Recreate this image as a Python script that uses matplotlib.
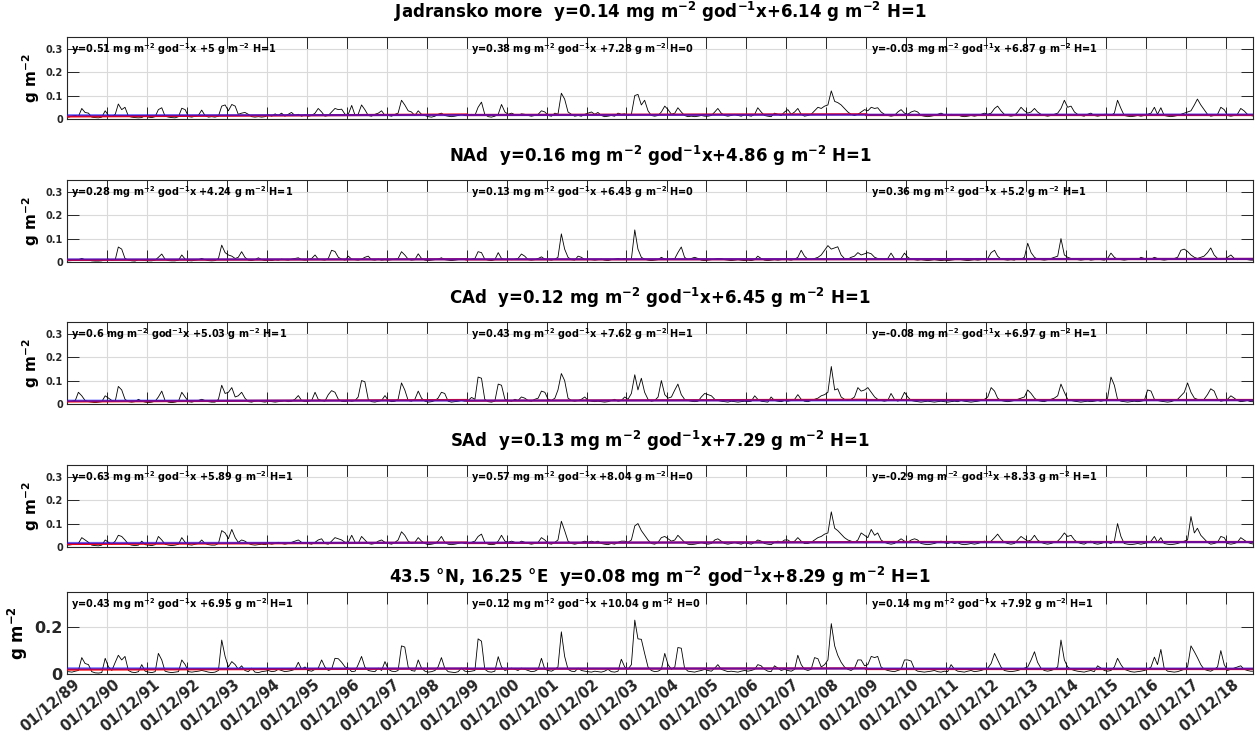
import matplotlib
matplotlib.use('Agg')
import matplotlib.pyplot as plt
import matplotlib.dates as mdates
import matplotlib.transforms as mtransforms
import pandas as pd
from datetime import datetime

# monthly values in 10^-3 g m^-2, one row per year (Dec..Nov), starting Dec 1989
jadran = [8, 12, 15, 10, 45, 28, 25, 8, 6, 5, 8, 35,
          15, 10, 20, 64, 40, 50, 12, 8, 6, 5, 6, 15,
          8, 6, 10, 40, 48, 12, 8, 6, 5, 10, 46, 40,
          10, 8, 12, 15, 38, 15, 8, 10, 8, 12, 55, 60,
          35, 62, 55, 20, 25, 28, 20, 10, 8, 10, 8, 10,
          18, 12, 22, 15, 25, 12, 20, 28, 15, 20, 12, 18,
          12, 15, 25, 45, 30, 12, 15, 30, 45, 40, 42, 20,
          20, 58, 15, 20, 60, 40, 15, 12, 20, 25, 35, 15,
          15, 12, 20, 25, 80, 60, 35, 30, 15, 35, 20, 15,
          10, 8, 12, 20, 25, 15, 12, 10, 12, 15, 20, 15,
          15, 20, 15, 50, 72, 20, 10, 8, 12, 20, 62, 30,
          20, 25, 18, 15, 22, 20, 15, 12, 15, 20, 35, 30,
          15, 12, 25, 20, 110, 85, 30, 20, 12, 15, 12, 20,
          25, 30, 20, 28, 15, 10, 12, 15, 12, 25, 20, 22,
          15, 20, 100, 105, 60, 80, 35, 15, 12, 15, 30, 55,
          40, 20, 25, 48, 30, 15, 10, 12, 10, 12, 15, 12,
          12, 15, 30, 45, 25, 15, 12, 15, 20, 15, 12, 18,
          15, 12, 20, 48, 30, 15, 12, 10, 25, 20, 15, 30,
          40, 20, 30, 45, 20, 12, 15, 20, 35, 50, 45, 55,
          60, 120, 75, 70, 60, 45, 30, 20, 15, 20, 30, 40,
          35, 50, 45, 48, 30, 20, 15, 12, 15, 30, 40, 25,
          20, 30, 35, 30, 15, 12, 10, 12, 15, 20, 25, 18,
          15, 20, 15, 18, 12, 10, 12, 15, 12, 15, 20, 25,
          20, 25, 45, 55, 35, 20, 15, 12, 15, 30, 50, 35,
          25, 30, 45, 30, 20, 15, 12, 15, 20, 25, 45, 80,
          50, 55, 30, 20, 15, 12, 20, 25, 15, 12, 15, 20,
          20, 15, 25, 80, 45, 15, 12, 10, 12, 15, 12, 15,
          20, 25, 50, 20, 48, 15, 12, 10, 12, 15, 20, 25,
          30, 35, 60, 85, 60, 40, 20, 12, 15, 20, 50, 40,
          15, 12, 15, 20, 45, 35, 20, 15, 12]

nad = [5, 6, 8, 10, 15, 10, 8, 5, 4, 4, 5, 10,
       12, 8, 10, 64, 55, 15, 8, 5, 4, 10, 8, 6,
       5, 5, 8, 20, 34, 12, 6, 5, 5, 8, 30, 12,
       6, 5, 8, 10, 15, 10, 6, 5, 6, 15, 72, 40,
       30, 25, 15, 20, 44, 20, 8, 6, 10, 18, 10, 6,
       8, 6, 10, 8, 12, 10, 8, 12, 15, 18, 10, 8,
       10, 15, 30, 12, 10, 8, 15, 50, 45, 20, 12, 8,
       25, 12, 10, 8, 12, 20, 25, 10, 8, 12, 8, 10,
       8, 10, 12, 15, 44, 30, 12, 8, 10, 35, 15, 8,
       6, 8, 10, 12, 18, 10, 8, 6, 8, 10, 12, 10,
       10, 12, 15, 44, 40, 12, 8, 6, 10, 40, 15, 10,
       12, 10, 12, 15, 34, 25, 10, 8, 10, 15, 22, 12,
       10, 8, 12, 20, 120, 55, 20, 10, 8, 25, 20, 10,
       12, 10, 8, 10, 12, 8, 6, 10, 12, 15, 12, 15,
       10, 12, 137, 55, 20, 12, 8, 6, 8, 10, 20, 12,
       10, 12, 15, 40, 64, 20, 10, 15, 20, 15, 8, 6,
       8, 10, 12, 15, 15, 10, 8, 6, 8, 10, 8, 6,
       8, 6, 10, 25, 15, 8, 6, 8, 10, 8, 10, 12,
       10, 8, 12, 20, 50, 25, 12, 10, 15, 20, 30, 50,
       70, 55, 60, 65, 30, 15, 12, 20, 25, 40, 30, 35,
       40, 35, 20, 15, 12, 10, 15, 38, 15, 10, 15, 38,
       20, 12, 10, 8, 10, 8, 6, 8, 10, 8, 6, 8,
       6, 8, 10, 12, 10, 8, 6, 8, 10, 8, 10, 12,
       15, 40, 50, 25, 12, 10, 8, 10, 8, 15, 12, 20,
       80, 40, 20, 12, 10, 8, 10, 15, 20, 25, 100, 30,
       20, 15, 12, 10, 8, 10, 12, 8, 10, 12, 10, 8,
       15, 38, 20, 12, 10, 8, 10, 12, 15, 10, 20, 15,
       10, 12, 20, 15, 10, 8, 10, 12, 15, 20, 50, 55,
       45, 30, 20, 15, 20, 25, 40, 60, 30, 15, 10, 12,
       20, 30, 15, 10, 12, 15, 10, 8, 8]

cad = [10, 12, 15, 50, 35, 15, 10, 8, 6, 8, 10, 35,
       25, 15, 12, 75, 60, 20, 10, 8, 10, 20, 12, 8,
       6, 8, 12, 30, 55, 15, 8, 6, 8, 12, 50, 30,
       10, 8, 12, 15, 20, 15, 10, 8, 8, 20, 80, 45,
       50, 70, 30, 35, 50, 25, 10, 8, 12, 15, 10, 8,
       12, 10, 8, 10, 12, 15, 10, 12, 20, 36, 15, 10,
       12, 15, 50, 20, 15, 12, 40, 57, 50, 20, 12, 10,
       15, 12, 15, 30, 100, 95, 20, 10, 8, 12, 15, 36,
       15, 10, 12, 20, 90, 60, 15, 12, 20, 55, 25, 12,
       8, 10, 15, 25, 50, 45, 12, 8, 10, 12, 15, 12,
       15, 28, 20, 115, 110, 20, 10, 8, 12, 85, 80, 20,
       15, 12, 20, 15, 30, 25, 15, 12, 20, 25, 55, 50,
       20, 15, 25, 60, 130, 100, 25, 15, 12, 15, 20, 30,
       15, 12, 10, 12, 10, 8, 10, 15, 20, 12, 15, 30,
       20, 45, 125, 60, 110, 50, 20, 12, 15, 30, 100, 40,
       25, 30, 60, 85, 40, 20, 15, 12, 10, 12, 30, 45,
       40, 35, 20, 15, 12, 10, 8, 12, 10, 8, 10, 12,
       10, 12, 35, 20, 12, 10, 8, 30, 15, 12, 10, 15,
       12, 15, 20, 40, 20, 12, 10, 15, 20, 25, 35, 40,
       50, 160, 60, 65, 30, 20, 15, 20, 30, 70, 55, 60,
       70, 50, 30, 20, 15, 12, 15, 45, 20, 12, 20, 50,
       30, 15, 12, 10, 8, 10, 12, 10, 8, 10, 12, 10,
       8, 10, 12, 10, 15, 12, 10, 8, 10, 12, 15, 20,
       30, 70, 55, 25, 15, 12, 10, 12, 15, 20, 25, 30,
       60, 45, 25, 15, 12, 10, 15, 20, 25, 35, 85, 50,
       20, 15, 12, 10, 8, 10, 12, 10, 12, 15, 12, 15,
       25, 115, 80, 20, 12, 10, 8, 10, 12, 10, 12, 15,
       60, 55, 20, 15, 12, 10, 8, 10, 15, 20, 35, 50,
       90, 50, 25, 20, 15, 20, 40, 65, 55, 20, 12, 15,
       20, 35, 25, 15, 10, 12, 15, 10, 10]

sad = [8, 10, 12, 15, 40, 30, 20, 8, 6, 5, 8, 30,
       20, 12, 25, 50, 45, 30, 12, 8, 6, 8, 25, 10,
       8, 6, 10, 45, 30, 12, 8, 6, 8, 12, 40, 20,
       10, 8, 12, 15, 30, 15, 10, 8, 8, 15, 70, 60,
       35, 75, 40, 20, 30, 25, 15, 10, 8, 10, 12, 10,
       15, 12, 15, 20, 15, 12, 15, 20, 25, 30, 20, 15,
       15, 12, 20, 30, 35, 15, 12, 25, 40, 35, 30, 20,
       20, 50, 20, 15, 45, 30, 15, 12, 15, 25, 30, 20,
       15, 12, 20, 30, 65, 50, 25, 15, 20, 40, 25, 15,
       10, 12, 15, 25, 45, 20, 12, 10, 12, 15, 20, 15,
       15, 20, 25, 45, 55, 20, 12, 10, 12, 25, 50, 25,
       20, 25, 20, 15, 25, 20, 15, 12, 15, 20, 40, 30,
       15, 12, 20, 30, 110, 70, 25, 15, 12, 15, 20, 25,
       20, 25, 20, 25, 15, 12, 10, 15, 12, 20, 25, 25,
       20, 30, 90, 100, 70, 50, 30, 15, 12, 20, 40, 45,
       35, 25, 30, 50, 35, 20, 12, 10, 12, 15, 20, 15,
       12, 15, 30, 35, 25, 15, 12, 15, 20, 15, 12, 18,
       15, 12, 20, 30, 25, 15, 12, 10, 20, 25, 20, 30,
       30, 20, 25, 40, 25, 15, 15, 20, 30, 40, 45, 55,
       60, 150, 80, 70, 55, 40, 30, 25, 20, 30, 60, 50,
       40, 75, 50, 60, 30, 20, 15, 12, 15, 25, 35, 25,
       20, 30, 35, 30, 15, 12, 10, 12, 15, 20, 25, 18,
       15, 20, 15, 18, 12, 10, 12, 15, 12, 15, 20, 25,
       20, 25, 40, 55, 35, 20, 15, 12, 15, 30, 45, 35,
       25, 30, 50, 30, 20, 15, 12, 15, 20, 25, 40, 60,
       45, 50, 30, 20, 15, 12, 20, 25, 15, 12, 15, 20,
       20, 15, 25, 100, 45, 15, 12, 10, 12, 15, 12, 15,
       20, 25, 45, 20, 40, 15, 12, 10, 12, 15, 20, 25,
       30, 130, 60, 80, 50, 35, 20, 12, 15, 20, 45, 40,
       15, 12, 15, 20, 40, 30, 20, 15, 12]

tocka = [10, 8, 12, 15, 70, 45, 40, 10, 5, 4, 6, 67,
         30, 15, 50, 80, 60, 75, 15, 8, 6, 10, 40, 12,
         8, 6, 10, 88, 60, 12, 8, 6, 8, 10, 60, 40,
         10, 8, 10, 12, 15, 12, 8, 6, 8, 15, 145, 75,
         30, 53, 40, 20, 35, 15, 10, 25, 8, 6, 10, 12,
         15, 10, 12, 20, 15, 10, 12, 15, 20, 50, 20, 30,
         15, 12, 20, 25, 60, 30, 15, 20, 67, 65, 50, 30,
         25, 10, 12, 40, 75, 30, 15, 12, 10, 25, 15, 53,
         20, 12, 10, 15, 120, 115, 30, 15, 12, 60, 25, 12,
         8, 10, 15, 30, 70, 25, 10, 8, 6, 10, 25, 12,
         10, 12, 15, 150, 140, 20, 10, 8, 12, 74, 30, 15,
         20, 25, 20, 15, 25, 20, 15, 10, 12, 20, 67, 20,
         15, 12, 20, 30, 180, 75, 20, 12, 10, 25, 15, 12,
         10, 8, 12, 10, 8, 12, 20, 10, 8, 12, 63, 30,
         20, 40, 230, 150, 148, 88, 30, 15, 10, 12, 20, 88,
         40, 20, 30, 113, 110, 25, 12, 10, 8, 12, 15, 20,
         15, 12, 25, 40, 20, 15, 10, 12, 10, 8, 12, 15,
         12, 15, 20, 40, 35, 20, 12, 10, 35, 25, 15, 20,
         15, 12, 20, 80, 40, 20, 15, 20, 70, 65, 30, 40,
         60, 215, 120, 80, 50, 30, 20, 15, 25, 60, 60, 35,
         40, 75, 70, 75, 30, 20, 15, 12, 10, 15, 20, 60,
         60, 55, 20, 12, 10, 8, 10, 12, 15, 10, 8, 12,
         10, 40, 20, 12, 10, 8, 12, 15, 10, 12, 15, 20,
         25, 45, 88, 60, 30, 15, 12, 10, 12, 15, 20, 25,
         30, 60, 95, 50, 25, 15, 12, 15, 20, 30, 145, 60,
         30, 20, 15, 12, 10, 8, 12, 15, 10, 35, 25, 15,
         12, 15, 30, 67, 40, 20, 15, 10, 8, 10, 12, 15,
         20, 30, 72, 40, 105, 25, 12, 10, 8, 10, 15, 20,
         30, 120, 95, 70, 40, 20, 15, 12, 20, 30, 100, 40,
         15, 20, 25, 30, 35, 20, 15, 12, 12]

names = ['Jadransko more', 'NAd', 'CAd', 'SAd', '43.5 °N, 16.25 °E']
# whole-period fit: slope, intercept, H
fit_all = [('0.14', '6.14', 1), ('0.16', '4.86', 1), ('0.12', '6.45', 1),
           ('0.13', '7.29', 1), ('0.08', '8.29', 1)]
# decade fits
fit_dec = [[('0.51', '5', 1), ('0.38', '7.28', 0), ('-0.03', '6.87', 1)],
           [('0.28', '4.24', 1), ('0.13', '6.43', 0), ('0.36', '5.2', 1)],
           [('0.6', '5.03', 1), ('0.43', '7.62', 1), ('-0.08', '6.97', 1)],
           [('0.63', '5.89', 1), ('0.57', '8.04', 0), ('-0.29', '8.33', 1)],
           [('0.43', '6.95', 1), ('0.12', '10.04', 0), ('0.14', '7.92', 1)]]
# trend lines drawn in the panels (start, end), 10^-3 g m^-2
trend_all = [(16, 19), (11, 13), (14, 16), (17, 21), (24, 23)]
trend_dec = [[(11, 19), (17, 20), (19, 19)],
             [(9, 12), (11, 12), (12, 13)],
             [(11, 17), (14, 18), (16, 16)],
             [(13, 19), (17, 21), (20, 20)],
             [(19, 23), (22, 24), (23, 23)]]
decade_edges = [datetime(1989, 12, 1), datetime(1999, 12, 1),
                datetime(2009, 12, 1), datetime(2019, 8, 5)]

W, H = 1257, 744
tops = [37, 180, 322, 465, 592]
bottoms = [119, 262, 404, 547, 674]
title_y = [12, 156, 298, 441, 577]

plt.rcParams['mathtext.default'] = 'bf'
plt.rcParams['font.weight'] = 'bold'

fig = plt.figure(figsize=(W / 100, H / 100), dpi=100)


def fit_text(f, sep):
    return 'y=%s mg m$^{-2}$ god$^{-1}$x%s%s g m$^{-2}$ H=%d' % (f[0], sep, f[1], f[2])


years = [datetime(y, 12, 1) for y in range(1989, 2019)]
series = [jadran, nad, cad, sad, tocka]

for i, vals in enumerate(series):
    ax = fig.add_axes([67 / W, 1 - bottoms[i] / H, (1253 - 67) / W,
                       (bottoms[i] - tops[i]) / H])
    dates = pd.date_range('1989-12-01', periods=len(vals), freq='MS') + pd.Timedelta(days=14)
    ax.plot(dates, [v / 1000 for v in vals], color='black', lw=0.6, zorder=3)
    # decade trends (red) and whole-period trend (blue)
    for j in range(3):
        ax.plot(decade_edges[j:j + 2], [v / 1000 for v in trend_dec[i][j]],
                color='#ff0000', lw=1.6, zorder=4)
    ax.plot([decade_edges[0], decade_edges[-1]], [v / 1000 for v in trend_all[i]],
            color='#1010ff', lw=1.6, alpha=0.6, zorder=5)

    ax.set_xlim(decade_edges[0], decade_edges[-1])
    ax.set_ylim(0, 0.35)
    ax.set_xticks(years)
    ax.xaxis.set_major_formatter(mdates.DateFormatter('%d/%m/%y'))
    ax.grid(True, color='#dadada', lw=0.8)
    ax.set_axisbelow(True)
    for s in ax.spines.values():
        s.set_color('#262626')
        s.set_linewidth(0.8)
    ax.tick_params(direction='in', length=8.5, width=0.7, top=True, right=True,
                   colors='#262626')

    for j in range(3):
        ax.text(mdates.date2num(decade_edges[j]) + 40, 0.3, fit_text(fit_dec[i][j], ' +'),
                fontsize=7, fontweight='bold', ha='left', va='center', zorder=6)

    fig.text((67 + 1253) / 2 / W, 1 - title_y[i] / H,
             names[i] + '  ' + fit_text(fit_all[i], '+'),
             fontsize=12, fontweight='bold', ha='center', va='center')

    if i < 4:
        ax.set_yticks([0, 0.1, 0.2, 0.3])
        ax.set_yticklabels(['0', '0.1', '0.2', '0.3'])
        ax.tick_params(axis='y', labelsize=7, pad=3)
        ax.tick_params(axis='x', labelbottom=False)
        ax.set_ylabel('g m$^{-2}$', fontsize=11, fontweight='bold')
        ax.yaxis.set_label_coords(-0.021, 0.5)
    else:
        ax.set_yticks([0, 0.2])
        ax.set_yticklabels(['0', '0.2'])
        ax.tick_params(axis='y', labelsize=11.5, pad=3)
        ax.tick_params(axis='x', labelsize=10.5, pad=2)
        shift = mtransforms.ScaledTranslation(0.06, 0, fig.dpi_scale_trans)
        for lab in ax.get_xticklabels():
            lab.set_rotation(40)
            lab.set_ha('right')
            lab.set_rotation_mode('anchor')
            lab.set_transform(lab.get_transform() + shift)
        ax.set_ylabel('g m$^{-2}$', fontsize=12, fontweight='bold')
        ax.yaxis.set_label_coords(-0.031, 0.5)

fig.savefig('out.png', dpi=100)
